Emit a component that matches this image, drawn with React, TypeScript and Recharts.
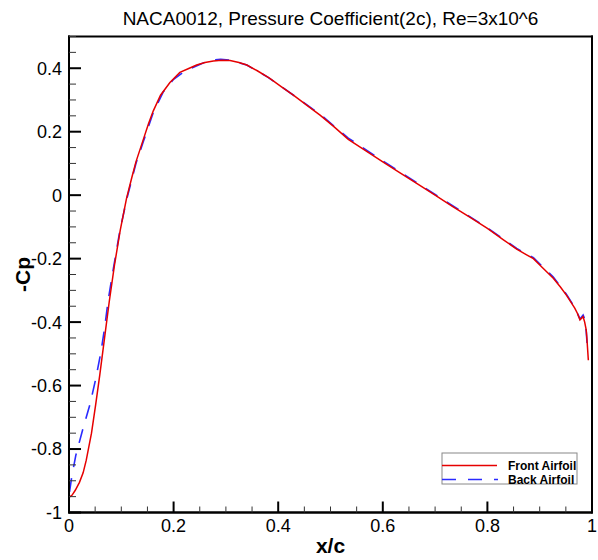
import React from "react";
import * as R from "recharts";
import { LineChart, Line, XAxis, YAxis } from "recharts";

const TITLE = "NACA0012, Pressure Coefficient(2c), Re=3x10^6";
const X_TITLE = "x/c";
const Y_TITLE = "-Cp";
const FRONT_NAME = "Front Airfoil";
const BACK_NAME = "Back Airfoil";
const FRONT_COLOR = "#e60000";
const BACK_COLOR = "#2a2aff";
const FRAME_COLOR = "#000000";

const xTicks = [0, 0.05, 0.1, 0.15, 0.2, 0.25, 0.3, 0.35, 0.4, 0.45, 0.5, 0.55, 0.6, 0.65, 0.7, 0.75, 0.8, 0.85, 0.9, 0.95, 1];
const yTicks = [-1, -0.95, -0.9, -0.85, -0.8, -0.75, -0.7, -0.65, -0.6, -0.55, -0.5, -0.45, -0.4, -0.35, -0.3, -0.25, -0.2, -0.15, -0.1, -0.05, 0, 0.05, 0.1, 0.15, 0.2, 0.25, 0.3, 0.35, 0.4, 0.45, 0.5];

const frontX = [0, 0.006, 0.012, 0.02, 0.027, 0.033, 0.043, 0.051, 0.059, 0.068, 0.077, 0.087, 0.098, 0.11, 0.12, 0.128, 0.142, 0.152, 0.161, 0.175, 0.193, 0.212, 0.23, 0.244, 0.26, 0.276, 0.292, 0.308, 0.325, 0.34, 0.36, 0.384, 0.405, 0.429, 0.455, 0.48, 0.507, 0.534, 0.567, 0.6, 0.633, 0.667, 0.7, 0.733, 0.767, 0.8, 0.83, 0.856, 0.875, 0.888, 0.905, 0.926, 0.94, 0.951, 0.96, 0.967, 0.972, 0.977, 0.983, 0.986, 0.989, 0.991, 0.993];
const frontCp = [-0.952, -0.945, -0.93, -0.905, -0.875, -0.835, -0.75, -0.66, -0.565, -0.45, -0.335, -0.22, -0.11, -0.01, 0.055, 0.105, 0.175, 0.225, 0.265, 0.315, 0.355, 0.387, 0.4, 0.41, 0.418, 0.423, 0.425, 0.424, 0.418, 0.41, 0.392, 0.368, 0.343, 0.315, 0.283, 0.252, 0.215, 0.176, 0.14, 0.105, 0.07, 0.035, 0.0, -0.035, -0.07, -0.105, -0.14, -0.17, -0.188, -0.2, -0.228, -0.262, -0.29, -0.315, -0.338, -0.356, -0.372, -0.393, -0.383, -0.4, -0.425, -0.47, -0.52];

const backX = [0.001, 0.005, 0.013, 0.026, 0.04, 0.051, 0.061, 0.068, 0.075, 0.085, 0.097, 0.11, 0.128, 0.142, 0.161, 0.18, 0.2, 0.222, 0.25, 0.27, 0.29, 0.31, 0.34, 0.38, 0.43, 0.48, 0.534, 0.6, 0.7, 0.8, 0.856, 0.888, 0.926, 0.951, 0.967, 0.977, 0.983, 0.986, 0.989, 0.992];
const backCp = [-0.935, -0.89, -0.82, -0.74, -0.66, -0.58, -0.495, -0.42, -0.33, -0.23, -0.115, -0.015, 0.1, 0.168, 0.26, 0.325, 0.365, 0.392, 0.412, 0.426, 0.428, 0.425, 0.41, 0.372, 0.314, 0.255, 0.18, 0.108, 0.002, -0.103, -0.168, -0.197, -0.258, -0.312, -0.354, -0.39, -0.378, -0.39, -0.43, -0.5];

const frontData = frontX.map((x, i) => ({ x, cp: frontCp[i] }));
const backData = backX.map((x, i) => ({ x, cp: backCp[i] }));

const FONT = "'Liberation Sans', Arial, Helvetica, sans-serif";
const FRAME = { stroke: FRAME_COLOR, strokeWidth: 2 };

const isMajor = (v: number) => Math.abs(v / 0.2 - Math.round(v / 0.2)) < 1e-6;
const fmt = (v: number) => String(Number(v.toFixed(2)));

const usePlotAreaSafe: () => any = (R as any).usePlotArea || (() => null);

function Decorations() {
  const area = usePlotAreaSafe();
  if (!area) return null;
  const cx = area.x + area.width / 2;
  const cy = area.y + area.height / 2;
  const right = area.x + area.width;
  const bottom = area.y + area.height;
  const lx = right - 150;
  const ly = bottom - 59.5;
  return (
    <g>
      <rect x={area.x - 1} y={area.y - 1} width={area.width + 2} height={2} fill={FRAME_COLOR} />
      <rect x={area.x - 1} y={bottom - 1} width={area.width + 2} height={2} fill={FRAME_COLOR} />
      <rect x={area.x - 1} y={area.y - 1} width={2} height={area.height + 2} fill={FRAME_COLOR} />
      <rect x={right - 1} y={area.y - 1} width={2} height={area.height + 2} fill={FRAME_COLOR} />
      <text x={cx} y={area.y - 11.5} textAnchor="middle" fontSize={19} fontFamily={FONT} fill="#000">
        {TITLE}
      </text>
      <text x={cx} y={bottom + 40.5} textAnchor="middle" fontSize={21} fontWeight="bold" fontFamily={FONT} fill="#000">
        {X_TITLE}
      </text>
      <text
        transform={`translate(${area.x - 39},${cy}) rotate(-90)`}
        textAnchor="middle"
        fontSize={21}
        fontWeight="bold"
        fontFamily={FONT}
        fill="#000"
      >
        {Y_TITLE}
      </text>
      <rect x={lx} y={ly} width={135} height={31} fill="#fff" stroke="#888" strokeWidth={1} />
      <line x1={lx} x2={lx + 55} y1={ly + 12.5} y2={ly + 12.5} stroke={FRONT_COLOR} strokeWidth={1.5} />
      <line x1={lx} x2={lx + 56} y1={ly + 26.5} y2={ly + 26.5} stroke={BACK_COLOR} strokeWidth={1.6} strokeDasharray="14 12" />
      <text x={lx + 66} y={ly + 17} fontSize={12} fontWeight="bold" fontFamily={FONT} fill="#000">
        {FRONT_NAME}
      </text>
      <text x={lx + 66} y={ly + 30.5} fontSize={12} fontWeight="bold" fontFamily={FONT} fill="#000">
        {BACK_NAME}
      </text>
    </g>
  );
}

const renderXTick = (props: any) => {
  const { x, y, payload, index } = props;
  const v = payload.value as number;
  const major = isMajor(v);
  return (
    <g key={`xt-${index}`}>
      <line x1={x} x2={x} y1={y} y2={y - (major ? 11 : 6)} stroke={major ? "#000" : "#333"} strokeWidth={major ? 2 : 1} />
      {major && (
        <text x={x} y={y + 19} textAnchor="middle" fontSize={18} fontFamily={FONT} fill="#000">
          {fmt(v)}
        </text>
      )}
    </g>
  );
};

const renderYTick = (props: any) => {
  const { x, y, payload, index } = props;
  const v = payload.value as number;
  const major = isMajor(v);
  return (
    <g key={`yt-${index}`}>
      <line x1={x} x2={x + (major ? 12 : 7)} y1={y} y2={y} stroke={major ? "#000" : "#333"} strokeWidth={major ? 2 : 1} />
      {major && (
        <text x={x - 7} y={y + 6.4} textAnchor="end" fontSize={18} fontFamily={FONT} fill="#000">
          {fmt(v)}
        </text>
      )}
    </g>
  );
};

export default function App() {
  return (
    <div style={{ position: "absolute", left: 0, top: 0, width: 598, height: 560, background: "#fff" }}>
      <LineChart width={598} height={560} margin={{ top: 36.5, right: 6, bottom: 17.5, left: 9 }}>
        <XAxis
          type="number"
          dataKey="x"
          domain={[0, 1]}
          ticks={xTicks}
          interval={0}
          height={30}
          tickSize={0}
          tickMargin={0}
          axisLine={FRAME}
          tickLine={false}
          tick={renderXTick}
        />
        <YAxis
          type="number"
          dataKey="cp"
          domain={[-1, 0.5]}
          ticks={yTicks}
          interval={0}
          width={60}
          tickSize={0}
          tickMargin={0}
          axisLine={FRAME}
          tickLine={false}
          tick={renderYTick}
        />
        <Line
          data={backData}
          dataKey="cp"
          name={BACK_NAME}
          type="linear"
          stroke={BACK_COLOR}
          strokeWidth={1.6}
          strokeDasharray="14 11"
          dot={false}
          isAnimationActive={false}
        />
        <Line
          data={frontData}
          dataKey="cp"
          name={FRONT_NAME}
          type="linear"
          stroke={FRONT_COLOR}
          strokeWidth={1.5}
          dot={false}
          isAnimationActive={false}
        />
        <Decorations />
      </LineChart>
    </div>
  );
}
